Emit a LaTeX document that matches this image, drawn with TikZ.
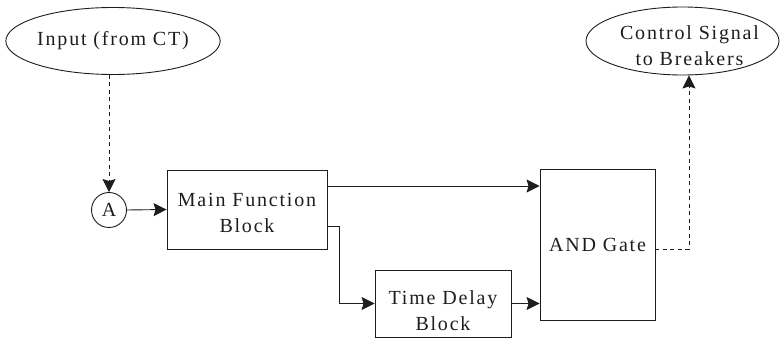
\documentclass[tikz,border=0pt]{standalone}
\usepackage{fontspec}
\setmainfont{Liberation Serif}[LetterSpace=9]
\usetikzlibrary{shapes.geometric,arrows.meta}
\definecolor{ink}{rgb}{0.12,0.11,0.11}
\begin{document}
\begin{tikzpicture}[x=1pt,y=-1pt,
  every node/.style={font=\fontsize{20}{26}\selectfont, text=ink, draw=ink, line width=0.9pt, inner sep=0pt, align=center},
  oval/.style={ellipse},
  blockbox/.style={rectangle},
  inner text/.style={draw=none},
  conn/.style={draw=ink, line width=0.9pt, -{Stealth[length=13pt,width=13pt,inset=2pt]}},
  dashconn/.style={conn, dash pattern=on 4pt off 3.5pt}]
\useasboundingbox (0,0) rectangle (780,339);
\node[oval, minimum width=206pt, minimum height=67pt] (in) at (113,41) {Input (from CT)};
\node[circle, minimum size=35pt] (A) at (109,210) {A};
\node[blockbox, minimum width=160pt, minimum height=79pt, label={[inner text, yshift=-3pt]center:Main Function\\Block}] (mfb) at (247,209.5) {};
\node[blockbox, minimum width=115pt, minimum height=151pt] (and) at (597.5,244.5) {AND Gate};
\node[blockbox, minimum width=136pt, minimum height=67pt, label={[inner text, yshift=-7pt]center:Time Delay\\Block}] (tdb) at (443,303.5) {};
\node[oval, minimum width=193pt, minimum height=68pt, label={[inner text, xshift=7pt, yshift=-5pt]center:Control Signal\\to Breakers}] (out) at (682.5,41) {};
\draw[dashconn] (A.north |- in.south) -- (A.north);
\draw[conn] (A.east) -- (mfb.west);
\draw[conn] ([yshift=23.5pt]mfb.east) -- ([yshift=23.5pt]mfb.east -| and.west);
\draw[conn] ([yshift=-16.5pt]mfb.east) -- ++(12,0) |- (tdb.west);
\draw[conn] (tdb.east) -- (tdb.east -| and.west);
\draw[dashconn] ([yshift=-4.5pt]and.east) -| ([xshift=6.5pt]out.south);
\end{tikzpicture}
\end{document}
